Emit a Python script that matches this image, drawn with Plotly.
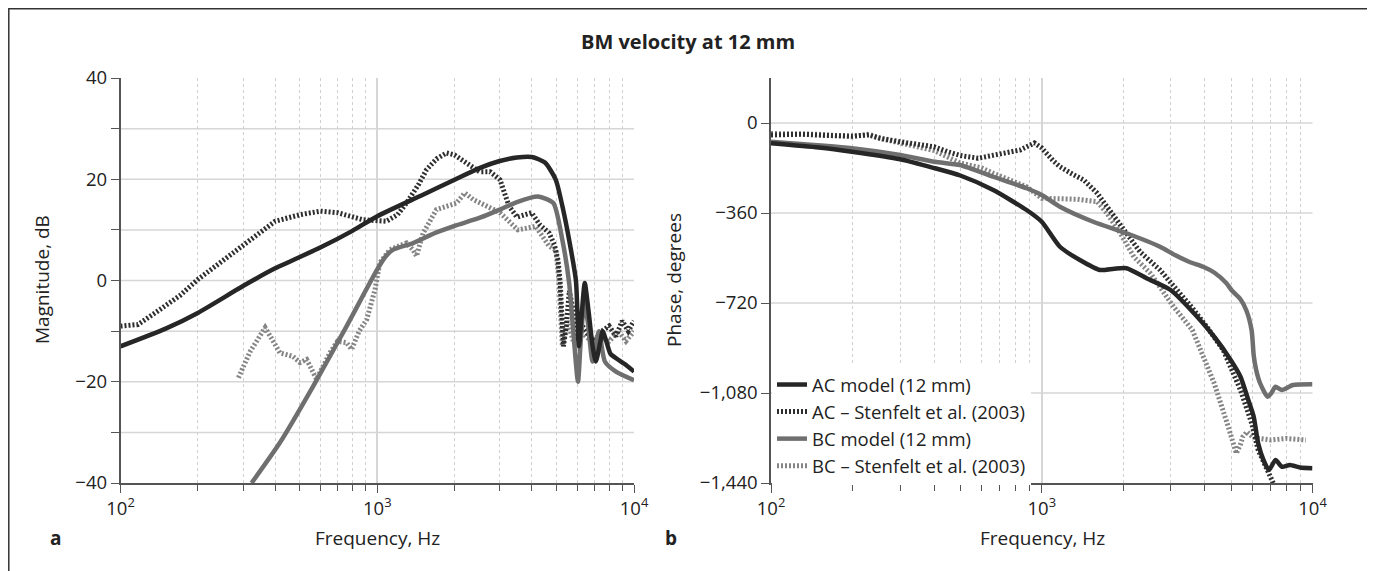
import plotly.graph_objects as go

# ---- panel a: magnitude, dB ----
ac_model_mag_f = [100, 150, 200, 300, 400, 600, 800, 1000, 1500, 2000, 2500, 3000, 3500, 4000, 4500,
                  4960, 5260, 5590, 5940, 6100, 6250, 6430, 6650, 6900, 7100, 7400, 7550, 7800, 8100,
                  8600, 9200, 10000]
ac_model_mag = [-13, -9.5, -6.4, -1.1, 2.4, 6.5, 9.8, 12.7, 16.9, 19.9, 22.2, 23.6, 24.3, 24.4, 23.3,
                19.9, 14.7, 8, 0, -13, -7, -0.5, -6, -13, -16, -12, -10, -12, -14.5,
                -15.5, -16.5, -18]

ac_sten_mag_f = [100, 117, 140, 170, 200, 250, 300, 400, 500, 600, 700, 880, 1086, 1200, 1300, 1450,
                 1556, 1700, 1862, 2000, 2228, 2500, 2750, 3006, 3260, 3500, 3990, 4300, 4670, 4900,
                 5060, 5160, 5310, 5450, 5600, 5800, 6000, 6300, 6700, 7000, 7500, 8000, 8500, 9000,
                 9500, 10000]
ac_sten_mag = [-9, -8.7, -6, -3, 0.2, 4, 6.8, 11.7, 13, 13.7, 13.4, 12, 11.7, 13, 15.3, 19,
               21.9, 24, 25.2, 24.8, 23.2, 21.5, 21.5, 19.9, 14.7, 12.5, 13.4, 11, 9.4, 7,
               4, -0.5, -13, -9, -2, -6, -12, -9, -11, -12, -10, -9, -11, -8,
               -10, -8]

bc_model_mag_f = [324, 418, 564, 760, 1000, 1080, 1154, 1380, 1700, 2000, 2512, 3000, 3500, 4230,
                  4850, 5260, 5590, 5800, 6050, 6200, 6400, 6600, 6900, 7300, 7700, 8500, 10000]
bc_model_mag = [-40, -32, -20.8, -9, 2.2, 4.8, 6.1, 7.4, 9.5, 10.8, 12.4, 14, 15.5, 16.6,
                15.3, 8, -0.5, -10, -20, -12, -4.5, -8, -16, -10, -16, -18, -19.7]

bc_sten_mag_f = [288, 320, 366, 418, 470, 500, 531, 580, 654, 700, 760, 795, 850, 910, 980, 1023,
                 1121, 1300, 1380, 1422, 1510, 1701, 2037, 2193, 2364, 2600, 3006, 3530, 4140, 4670,
                 4960, 5100, 5260, 5500, 5800, 6200, 6800, 7300, 8000, 8700, 9300, 10000]
bc_sten_mag = [-19.2, -14, -9.3, -14.3, -15, -16.2, -15.6, -19.5, -14.3, -12, -12.3, -13.6, -10, -7.7, -1.8, 3.5,
               6.1, 7.4, 6, 4.8, 9.4, 14, 15.3, 17.3, 16, 15, 13.4, 10, 10.7, 6.8,
               6, 0, -13, -8, -12, -10, -12, -11, -12, -10, -12, -10]

# ---- panel b: phase, degrees ----
ac_model_ph_f = [100, 150, 199, 300, 403, 500, 662, 879, 1000, 1167, 1383, 1641, 1850, 2057, 2438, 2991,
                 3500, 4335, 5000, 5420, 5800, 6066, 6300, 6600, 6906, 7300, 7714, 8250, 9000, 10000]
ac_model_ph = [-81, -98, -115, -145, -181, -210, -268, -348, -395, -495, -548, -588, -583, -581, -621, -668,
               -740, -855, -950, -1015, -1110, -1175, -1281, -1350, -1388, -1348, -1375, -1368, -1378, -1381]

ac_sten_ph_f = [100, 130, 160, 199, 230, 250, 300, 400, 450, 500, 582, 650, 700, 832, 940, 1000, 1100,
                1167, 1300, 1430, 1603, 1847, 2057, 2306, 2734, 3103, 3600, 4100, 4680, 5420, 5960,
                6300, 6780, 7300]
ac_sten_ph = [-48, -45, -50, -52, -48, -60, -75, -95, -115, -130, -141, -130, -122, -108, -80, -100, -150,
              -175, -205, -228, -281, -375, -441, -515, -588, -655, -740, -820, -908, -1068, -1201,
              -1308, -1388, -1460]

bc_model_ph_f = [100, 199, 300, 403, 499, 662, 879, 1000, 1167, 1549, 2057, 2734, 3103, 3500, 4000, 4335,
                 4800, 5035, 5420, 5700, 5960, 6066, 6200, 6400, 6820, 7050, 7300, 7714, 8470, 10000]
bc_model_ph = [-75, -101, -128, -155, -168, -215, -261, -288, -335, -395, -441, -495, -528, -555, -578, -598,
               -640, -670, -705, -750, -830, -930, -990, -1040, -1095, -1080, -1055, -1068, -1048, -1045]

bc_sten_ph_f = [100, 150, 200, 230, 260, 300, 400, 500, 600, 662, 879, 1000, 1167, 1352, 1603, 1741,
                1951, 2188, 2519, 3069, 3600, 4335, 4840, 5230, 5400, 5530, 5730, 6000, 6300, 7030,
                8000, 9460]
bc_sten_ph = [-42, -45, -55, -45, -65, -80, -110, -160, -180, -201, -255, -301, -301, -305, -315, -361,
              -441, -535, -601, -735, -828, -1041, -1201, -1321, -1290, -1255, -1235, -1255, -1261, -1268,
              -1262, -1268]

names = ["AC model (12 mm)", "AC \u2013 Stenfelt et al. (2003)", "BC model (12 mm)",
         "BC \u2013 Stenfelt et al. (2003)"]

AC_COL = "#262626"
AC_DOT = "#2e2e2e"
BC_COL = "#6f6f6f"
BC_DOT = "#858585"
FONT = "Open Sans"
TXT = "#222"
W, H = 1375, 571
OFF = 8  # page body margin, the figure sits 8px in from the window corner


def fx(px):
    return (px - OFF) / W


def fy(py):
    return 1 - (py - OFF) / H


styles = [
    dict(color=AC_COL, width=4.5, shape="spline", smoothing=0.6),
    dict(color=AC_DOT, width=5, dash="2px,2px"),
    dict(color=BC_COL, width=4.5, shape="spline", smoothing=0.6),
    dict(color=BC_DOT, width=5, dash="2px,2px"),
]

fig = go.Figure()

panel_a = [(ac_model_mag_f, ac_model_mag), (ac_sten_mag_f, ac_sten_mag),
           (bc_model_mag_f, bc_model_mag), (bc_sten_mag_f, bc_sten_mag)]
panel_b = [(ac_model_ph_f, ac_model_ph), (ac_sten_ph_f, ac_sten_ph),
           (bc_model_ph_f, bc_model_ph), (bc_sten_ph_f, bc_sten_ph)]

# draw dotted ones first so the models sit on top
order = [3, 1, 2, 0]
for i in order:
    xs, ys = panel_a[i]
    fig.add_trace(go.Scatter(x=xs, y=ys, mode="lines", line=styles[i], name=names[i],
                             xaxis="x", yaxis="y", showlegend=False, hoverinfo="skip"))
for i in order:
    xs, ys = panel_b[i]
    fig.add_trace(go.Scatter(x=xs, y=ys, mode="lines", line=styles[i], name=names[i],
                             xaxis="x2", yaxis="y2", showlegend=True, legendrank=i + 1,
                             hoverinfo="skip"))

minor_x = [200, 300, 400, 500, 600, 700, 800, 900, 2000, 3000, 4000, 5000, 6000, 7000, 8000, 9000]
xt_vals = [100, 1000, 10000]
xt_text = ["10<sup>2</sup>", "10<sup>3</sup>", "10<sup>4</sup>"]
TICKFONT = dict(family=FONT, size=18.5, color=TXT)


def xaxis_cfg(domain, anchor):
    return dict(type="log", range=[2, 4], domain=domain, anchor=anchor,
                tickvals=xt_vals, ticktext=xt_text, ticks="outside", ticklen=8, tickwidth=1.3,
                tickcolor="#555", showline=True, linecolor="#555", linewidth=1.5,
                showgrid=True, gridcolor="#d6d6d6", gridwidth=1.5, zeroline=False,
                automargin=False, tickfont=TICKFONT,
                minor=dict(tickvals=minor_x, ticks="outside", ticklen=6, tickwidth=1.2,
                           tickcolor="#555", showgrid=True, gridcolor="#d0d0d0",
                           griddash="dot", gridwidth=1))


mag_ticks = [-40, -20, 0, 20, 40]
ph_ticks = [-1440, -1080, -720, -360, 0]


def fmt(v):
    s = "{:,}".format(abs(v))
    return ("\u2212" + s) if v < 0 else s


ydom = [fy(483), fy(78)]
fig.update_layout(
    width=W, height=H, autosize=False,
    margin=dict(l=0, r=0, t=0, b=0, pad=0, autoexpand=False),
    paper_bgcolor="white", plot_bgcolor="white",
    font=dict(family=FONT, size=18, color=TXT),
    xaxis=xaxis_cfg([fx(120.5), fx(634)], "y"),
    xaxis2=xaxis_cfg([fx(771), fx(1312.5)], "y2"),
    yaxis=dict(range=[-40, 40], domain=ydom, anchor="x", tickvals=mag_ticks,
               ticktext=[fmt(v) for v in mag_ticks], ticks="outside", ticklen=8, tickwidth=1.3,
               tickcolor="#555", showline=True, linecolor="#555", linewidth=1.5,
               showgrid=False, zeroline=False, automargin=False, tickfont=TICKFONT,
               minor=dict(tickvals=[-30, -10, 10, 30], ticks="outside", ticklen=8, tickwidth=1.3,
                          tickcolor="#555", showgrid=False)),
    yaxis2=dict(range=[-1440, 180], domain=ydom, anchor="x2", tickvals=ph_ticks,
                ticktext=[fmt(v) for v in ph_ticks], ticks="outside", ticklen=8, tickwidth=1.3,
                tickcolor="#555", showline=True, linecolor="#555", linewidth=1.5,
                showgrid=False, zeroline=False, automargin=False, tickfont=TICKFONT),
    legend=dict(x=fx(772), y=fy(366), xanchor="left", yanchor="top", bgcolor="white",
                font=dict(family=FONT, size=18.5, color=TXT), tracegroupgap=0,
                itemwidth=30, borderwidth=0),
)

# horizontal grid lines
for v in [-30, -20, -10, 0, 10, 20, 30]:
    fig.add_shape(type="line", xref="x domain", yref="y", x0=0, x1=1, y0=v, y1=v,
                  line=dict(color="#d6d6d6", width=1.5), layer="below")
for v in [-1080, -720, -360, 0]:
    fig.add_shape(type="line", xref="x2 domain", yref="y2", x0=0, x1=1, y0=v, y1=v,
                  line=dict(color="#d6d6d6", width=1.5), layer="below")

# frame around the figure
fig.add_shape(type="rect", xref="paper", yref="paper", x0=fx(8.8), x1=fx(1368),
              y0=-0.05, y1=fy(8.8), line=dict(color="#333", width=1.5), layer="above")

ann = dict(xref="paper", yref="paper", showarrow=False, xanchor="center", yanchor="middle",
           font=dict(family=FONT, size=19, color=TXT))
fig.add_annotation(text="<b>BM velocity at 12 mm</b>", x=fx(688), y=fy(42),
                   **{**ann, "font": dict(family=FONT, size=20, color=TXT)})
fig.add_annotation(text="Frequency, Hz", x=fx(377), y=fy(538), **ann)
fig.add_annotation(text="Frequency, Hz", x=fx(1042), y=fy(538), **ann)
fig.add_annotation(text="Magnitude, dB", x=fx(42), y=fy(280), textangle=-90, **ann)
fig.add_annotation(text="Phase, degrees", x=fx(674), y=fy(280), textangle=-90, **ann)
fig.add_annotation(text="<b>a</b>", x=fx(55), y=fy(538), **ann)
fig.add_annotation(text="<b>b</b>", x=fx(671), y=fy(538), **ann)

fig.write_html("out.html")
